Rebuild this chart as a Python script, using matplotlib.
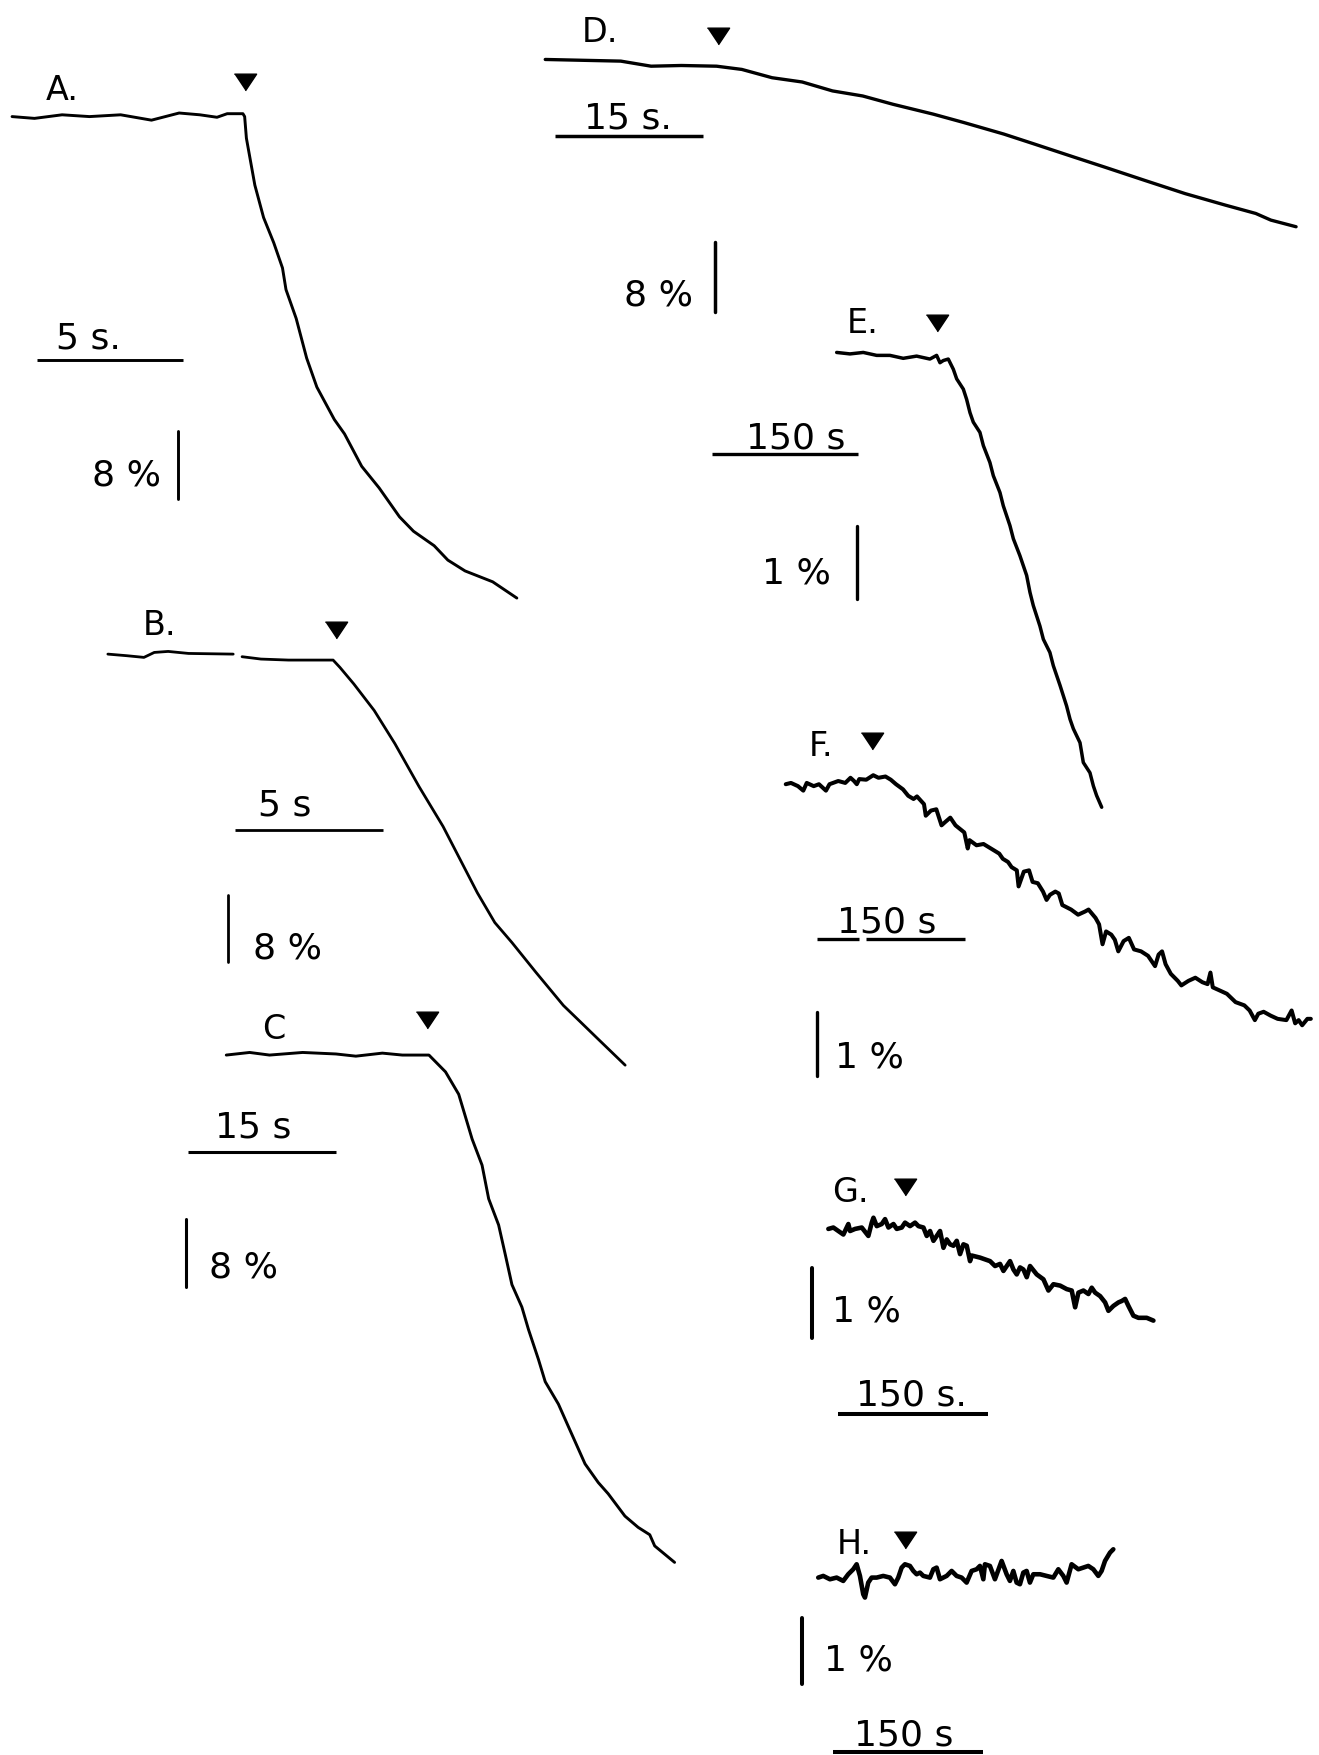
"""
Recorded traces A-H with stimulus markers and scale bars.
Each trace: time (s) from stimulus onset, signal change (%) from baseline.
"""

import numpy as np
import matplotlib
matplotlib.use("Agg")
import matplotlib.pyplot as plt
from matplotlib.transforms import Affine2D

nan = np.nan

# ── traces (s, %) ────────────────────────────────────────────────────────────
A_T = [-7.99, -7.22, -6.27, -5.33, -4.26, -3.20, -2.25, -1.54, -0.95, -0.60, -0.06,
       0.0, 0.06, 0.35, 0.65, 1.00, 1.30, 1.42, 1.77, 2.13, 2.48, 3.08, 3.43, 4.02,
       4.62, 5.32, 5.80, 6.51, 6.98, 7.57, 8.52, 9.35]
A_V = [0.0, -0.21, 0.21, 0.0, 0.21, -0.42, 0.42, 0.21, -0.08, 0.34, 0.34,
       0.0, -2.54, -8.05, -11.86, -14.83, -17.79, -20.33, -23.72, -28.38, -31.78,
       -35.59, -37.28, -41.09, -43.63, -47.03, -48.72, -50.42, -52.11, -53.38,
       -54.66, -56.57]

B_T = [-7.62, -6.98, -6.40, -6.05, -5.58, -4.89, -3.38, nan, -3.08, -2.44, -1.51,
       0.0, 0.23, 0.70, 1.39, 2.09, 2.91, 3.72, 4.30, 4.88, 5.47, 6.05, 6.86, 7.79,
       8.37, 8.95, 9.88]
B_V = [0.71, 0.52, 0.32, 0.91, 1.03, 0.79, 0.71, nan, 0.40, 0.12, 0.0,
       0.0, -0.87, -2.84, -6.0, -9.95, -15.08, -19.81, -23.76, -27.71, -31.25,
       -33.63, -37.17, -41.12, -43.09, -45.07, -48.23]

C_T = [-20.57, -18.20, -16.18, -12.82, -9.44, -7.42, -4.73, -2.70, 0.0, 1.68, 3.02,
       3.70, 4.38, 5.39, 6.06, 7.07, 7.75, 8.42, 9.43, 10.10, 11.11, 11.80, 13.14,
       14.15, 15.84, 17.18, 18.19, 19.89, 21.23, 22.41, 22.91, 24.93]
C_V = [0.0, 0.31, 0.0, 0.31, 0.13, -0.13, 0.23, 0.0, 0.0, -2.0, -4.67,
       -7.33, -10.0, -13.11, -17.11, -20.23, -23.77, -27.33, -30.0, -32.67, -36.23,
       -38.89, -41.56, -44.23, -48.67, -50.89, -52.23, -54.89, -56.23, -57.11,
       -58.44, -60.4]

D_T = [-17.39, -9.72, -6.65, -3.58, 0.0, 2.56, 5.63, 8.69, 11.76, 14.83, 17.90,
       21.99, 25.06, 29.15, 32.22, 36.31, 39.38, 43.47, 47.56, 51.65, 54.72, 56.25,
       58.81]
D_V = [0.77, 0.58, 0.0, 0.08, 0.0, -0.37, -1.32, -1.81, -2.83, -3.41, -4.36,
       -5.49, -6.44, -7.77, -8.90, -10.42, -11.55, -13.08, -14.59, -15.91, -16.86,
       -17.62, -18.38]

E_T = [-114.2, -100.6, -87.0, -73.3, -59.7, -46.1, -32.4, -18.8, -11.9, -8.5, -5.0,
       0.0, 5.2, 8.6, 15.4, 18.8, 22.2, 25.6, 32.4, 35.9, 42.6, 46.1, 52.9, 56.3,
       63.1, 66.6, 73.3, 80.2, 83.6, 87.0, 93.8, 97.3, 104.0, 107.5, 114.4, 121.1,
       124.6, 128.0, 134.8, 138.2, 145.0, 148.5, 151.8, 157.0]
E_V = [0.09, 0.07, 0.09, 0.05, 0.05, 0.01, 0.04, 0.0, 0.05, -0.05, -0.02,
       0.0, -0.14, -0.27, -0.41, -0.55, -0.73, -0.86, -1.0, -1.18, -1.41, -1.59,
       -1.82, -2.0, -2.27, -2.45, -2.68, -2.95, -3.18, -3.36, -3.64, -3.82, -4.0,
       -4.18, -4.45, -4.73, -4.91, -5.04, -5.23, -5.50, -5.64, -5.82, -5.95, -6.11]

F_T = [-87.1, -81.8, -74.7, -69.3, -65.8, -58.7, -53.4, -46.3, -42.7, -33.8,
       -26.7, -21.4, -17.8, -15.0, -12.5, -5.4, 1.7, 7.0, 14.1, 19.5,
       24.8, 31.9, 37.2, 42.6, 46.1, 53.2, 55.0, 60.3, 65.7, 71.0,
       74.6, 79.9, 85.2, 94.1, 97.6, 99.4, 106.5, 113.6, 124.3, 129.6,
       133.2, 138.5, 142.1, 147.4, 149.2, 154.5, 159.8, 163.4, 168.7, 174.0,
       177.6, 181.1, 186.5, 190.0, 193.6, 202.5, 209.6, 216.7, 220.2, 227.3,
       230.9, 234.4, 238.0, 243.3, 246.9, 250.4, 255.8, 261.1, 266.4, 273.5,
       280.6, 287.7, 291.3, 294.8, 298.4, 303.7, 310.8, 314.4, 321.5, 328.6,
       335.7, 341.0, 343.9, 346.3, 353.5, 360.6, 369.4, 378.3, 383.7, 389.0,
       392.5, 397.9, 405.0, 412.1, 421.0, 426.3, 429.9, 433.4, 437.0, 442.3, 445.8]
F_V = [-0.02, 0.00, -0.05, -0.12, 0.00, -0.05, -0.02, -0.12, -0.02, 0.03,
       0.00, 0.08, 0.03, -0.02, 0.06, 0.05, 0.12, 0.08, 0.10, 0.05,
       -0.02, -0.10, -0.20, -0.25, -0.21, -0.33, -0.51, -0.43, -0.41, -0.66,
       -0.61, -0.54, -0.66, -0.77, -1.02, -0.89, -0.97, -0.95, -1.05, -1.10,
       -1.18, -1.23, -1.31, -1.36, -1.61, -1.38, -1.36, -1.54, -1.56, -1.69,
       -1.82, -1.74, -1.69, -1.72, -1.90, -1.97, -2.05, -2.00, -1.97, -2.10,
       -2.20, -2.51, -2.31, -2.36, -2.44, -2.62, -2.46, -2.41, -2.59, -2.62,
       -2.69, -2.85, -2.67, -2.62, -2.82, -2.97, -3.08, -3.15, -3.08, -3.03,
       -3.10, -3.13, -2.95, -3.18, -3.23, -3.28, -3.41, -3.46, -3.54, -3.69,
       -3.59, -3.56, -3.62, -3.67, -3.69, -3.54, -3.74, -3.69, -3.77, -3.67, -3.67]

G_T = [-76.7, -71.7, -66.7, -61.7, -56.7, -55.0, -50.0, -43.3, -36.7, -33.3,
       -31.6, -28.3, -23.3, -20.0, -16.6, -11.6, -8.3, -3.3, 0.0, 5.0,
       10.0, 13.4, 18.4, 21.7, 25.0, 28.4, 31.7, 35.0, 38.4, 41.7,
       45.0, 48.4, 51.7, 55.0, 58.4, 61.7, 65.0, 66.7, 75.0, 85.0,
       90.0, 95.0, 98.4, 101.7, 105.0, 108.4, 111.7, 115.0, 118.4, 121.7,
       125.0, 131.7, 138.4, 143.4, 148.4, 155.1, 161.7, 166.7, 170.1, 173.4,
       178.4, 183.4, 186.7, 190.1, 195.1, 200.1, 203.4, 208.4, 213.4, 216.7,
       220.1, 223.4, 228.4, 233.4, 241.7, 248.4]
G_V = [-0.02, 0.0, -0.05, -0.10, 0.05, -0.05, -0.02, 0.0, -0.12, 0.07,
       0.14, 0.02, 0.05, 0.12, 0.0, 0.05, -0.02, 0.0, 0.07, 0.02,
       0.07, 0.02, 0.0, -0.12, -0.05, -0.19, -0.12, -0.05, -0.29, -0.17,
       -0.24, -0.26, -0.19, -0.38, -0.24, -0.26, -0.48, -0.40, -0.43, -0.48,
       -0.55, -0.52, -0.62, -0.55, -0.48, -0.60, -0.67, -0.57, -0.60, -0.71,
       -0.55, -0.67, -0.74, -0.90, -0.81, -0.83, -0.88, -0.90, -1.14, -0.93,
       -0.90, -0.95, -0.86, -0.93, -0.98, -1.07, -1.19, -1.12, -1.07, -1.05,
       -1.02, -1.12, -1.26, -1.29, -1.29, -1.33]

H_T = [-86.7, -81.7, -75.0, -68.3, -61.7, -56.7, -51.7, -48.3, -45.0, -41.7,
       -40.0, -36.7, -33.3, -28.3, -21.7, -15.0, -10.0, -6.7, -3.3, 0.0,
       5.0, 8.4, 11.7, 15.0, 18.4, 25.0, 28.4, 31.7, 35.0, 41.7,
       46.7, 51.7, 56.7, 61.7, 66.7, 71.7, 75.0, 78.4, 80.0, 85.0,
       90.0, 96.7, 101.7, 105.0, 108.4, 111.7, 115.0, 118.4, 121.7, 125.0,
       128.4, 135.1, 141.7, 148.4, 153.4, 158.4, 161.7, 166.7, 173.4, 178.4,
       183.4, 188.4, 193.4, 196.7, 200.1, 205.1, 208.4]
H_V = [-0.025, 0.0, -0.05, -0.025, -0.075, 0.025, 0.10, 0.175, 0.0, -0.275,
       -0.325, -0.10, -0.025, -0.025, 0.0, -0.025, -0.125, -0.025, 0.125, 0.175,
       0.15, 0.075, 0.025, 0.05, 0.0, -0.025, 0.10, 0.125, -0.05, 0.0,
       0.075, 0.0, -0.025, -0.10, 0.075, 0.10, 0.15, -0.05, 0.175, 0.15,
       -0.05, 0.225, 0.025, -0.075, 0.075, -0.10, -0.125, 0.05, 0.075, -0.10,
       0.025, 0.025, 0.0, -0.025, 0.10, 0.0, -0.10, 0.175, 0.10, 0.125,
       0.15, 0.10, 0.0, 0.075, 0.225, 0.35, 0.40]

TRACES = {"A": (A_T, A_V), "B": (B_T, B_V), "C": (C_T, C_V), "D": (D_T, D_V),
          "E": (E_T, E_V), "F": (F_T, F_V), "G": (G_T, G_V), "H": (H_T, H_V)}

# stimulus time (s) and scale bar sizes (s, %)
STIM_T = {"A": 0.0, "B": 0.1, "C": -0.2, "D": 0.1, "E": -12.0, "F": 0.0, "G": 0.0, "H": 0.0}
BAR_S = {"A": 5, "B": 5, "C": 15, "D": 15, "E": 150, "F": 150, "G": 150, "H": 150}
BAR_PCT = {"A": 8, "B": 8, "C": 8, "D": 8, "E": 1, "F": 1, "G": 1, "H": 1}
LABELS = {"A": "A.", "B": "B.", "C": "C", "D": "D.", "E": "E.", "F": "F.", "G": "G.", "H": "H."}
TIME_TXT = {"A": "5 s.", "B": "5 s", "C": "15 s", "D": "15 s.", "E": "150 s",
            "F": "150 s", "G": "150 s.", "H": "150 s"}
PCT_TXT = {"A": "8 %", "B": "8 %", "C": "8 %", "D": "8 %", "E": "1 %", "F": "1 %",
           "G": "1 %", "H": "1 %"}

# ── layout, in px of a 1178 x 1568 canvas ────────────────────────────────────
W, H = 1178, 1568
# origin x, origin y, px per s, px per %
ORIGIN = {"A": (218.5, 105.0, 26.0, 7.6), "B": (297.5, 590.3, 26.4, 7.5),
          "C": (383.1, 943.0, 8.8, 7.5), "D": (640.0, 60.0, 8.8, 7.8),
          "E": (846.9, 321.5, 0.8727, 65.5), "F": (778.4, 700.0, 0.88, 57.4),
          "G": (808.3, 1097.0, 0.893, 62.5), "H": (808.2, 1408.1, 0.893, 59.5)}
ARROW_RAISE = {"A": 31, "B": 27, "C": 31, "D": 27, "E": 32, "F": 37, "G": 36, "H": 32}
HBAR_AT = {"A": (33.2, 322.3), "B": (210, 742), "C": (168, 1030), "D": (496, 122),
           "E": (635.6, 406.3), "F": (729.9, 839.8), "G": (748.8, 1263.7),
           "H": (744.2, 1565.5)}
VBAR_AT = {"A": (159.3, 446.6), "B": (203.8, 860), "C": (166.5, 1149.7),
           "D": (638.6, 279.8), "E": (765, 535.8), "F": (729.9, 962),
           "G": (725, 1195.3), "H": (716, 1504.8)}
LABEL_AT = {"A": (40.5, 88.9), "B": (127.6, 567), "C": (233.7, 928), "D": (519.8, 37.8),
            "E": (756.6, 297.7), "F": (722.7, 674.7), "G": (743.3, 1073.2),
            "H": (747.7, 1387.2)}
TIME_AT = {"A": (49.8, 311.1), "B": (230.5, 728.5), "C": (192.2, 1016), "D": (522, 114.6),
           "E": (666.3, 400.4), "F": (747.7, 832.4), "G": (764.1, 1254.8),
           "H": (762.6, 1558.4)}
# percent labels: (x, baseline y, horizontal anchor)
PCT_AT = {"A": (143.5, 433.2, "right"), "B": (225.9, 855.8, "left"),
          "C": (186.3, 1141, "left"), "D": (618.5, 272.4, "right"),
          "E": (742.0, 520.9, "right"), "F": (746.1, 953.2, "left"),
          "G": (743.3, 1180.4, "left"), "H": (735.8, 1491.4, "left")}
TRACE_LW = {"A": 2.1, "B": 2.0, "C": 2.1, "D": 2.4, "E": 2.5, "F": 2.9, "G": 3.3, "H": 3.3}
BAR_LW = {"A": 2.1, "B": 2.0, "C": 2.2, "D": 2.5, "E": 2.4, "F": 2.4, "G": 2.9, "H": 2.9}

ARROW = [(-1.0, 0.75), (1.0, 0.75), (0.0, -0.75)]
FS_TEXT = 26
FS_LABEL = 24

plt.rcParams["font.family"] = ["DejaVu Sans"]


def panel_transform(ax, x0, y0, sx, sy):
    return Affine2D().scale(sx, -sy).translate(x0, y0) + ax.transData


def draw_panel(ax, key):
    x0, y0, sx, sy = ORIGIN[key]
    t, v = TRACES[key]
    tr = panel_transform(ax, x0, y0, sx, sy)
    ax.plot(t, v, color="black", lw=TRACE_LW[key], transform=tr,
            solid_joinstyle="round", solid_capstyle="round")

    # stimulus marker
    tr_arrow = panel_transform(ax, x0, y0 - ARROW_RAISE[key], sx, sy)
    ax.plot([STIM_T[key]], [0], marker=ARROW, ms=16, color="black",
            linestyle="none", transform=tr_arrow)

    # time bar
    hx, hy = HBAR_AT[key]
    tr_h = panel_transform(ax, hx, hy, sx, sy)
    if key == "F":
        ax.plot([0, 42], [0, 0], color="black", lw=BAR_LW[key], transform=tr_h,
                solid_capstyle="butt")
        ax.plot([49, BAR_S[key]], [0, 0], color="black", lw=BAR_LW[key],
                transform=tr_h, solid_capstyle="butt")
    else:
        ax.plot([0, BAR_S[key]], [0, 0], color="black", lw=BAR_LW[key],
                transform=tr_h, solid_capstyle="butt")

    # amplitude bar
    vx, vy = VBAR_AT[key]
    tr_v = panel_transform(ax, vx, vy, sx, sy)
    ax.plot([0, 0], [0, BAR_PCT[key]], color="black", lw=BAR_LW[key],
            transform=tr_v, solid_capstyle="round")

    lx, ly = LABEL_AT[key]
    ax.text(lx, ly, LABELS[key], fontsize=FS_LABEL, ha="left", va="baseline")
    tx, ty = TIME_AT[key]
    ax.text(tx, ty, TIME_TXT[key], fontsize=FS_TEXT, ha="left", va="baseline")
    px, py, pha = PCT_AT[key]
    ax.text(px, py, PCT_TXT[key], fontsize=FS_TEXT, ha=pha, va="baseline")


def main():
    fig = plt.figure(figsize=(13.19, 17.56), dpi=100)
    ax = fig.add_axes([0, 0, 1, 1])
    ax.set_autoscale_on(False)
    ax.set_xlim(0, W)
    ax.set_ylim(H, 0)
    ax.axis("off")

    for key in TRACES:
        draw_panel(ax, key)

    ax.set_xlim(0, W)
    ax.set_ylim(H, 0)
    fig.savefig("out.png", dpi=100, facecolor="white")
    plt.close(fig)


if __name__ == "__main__":
    main()
